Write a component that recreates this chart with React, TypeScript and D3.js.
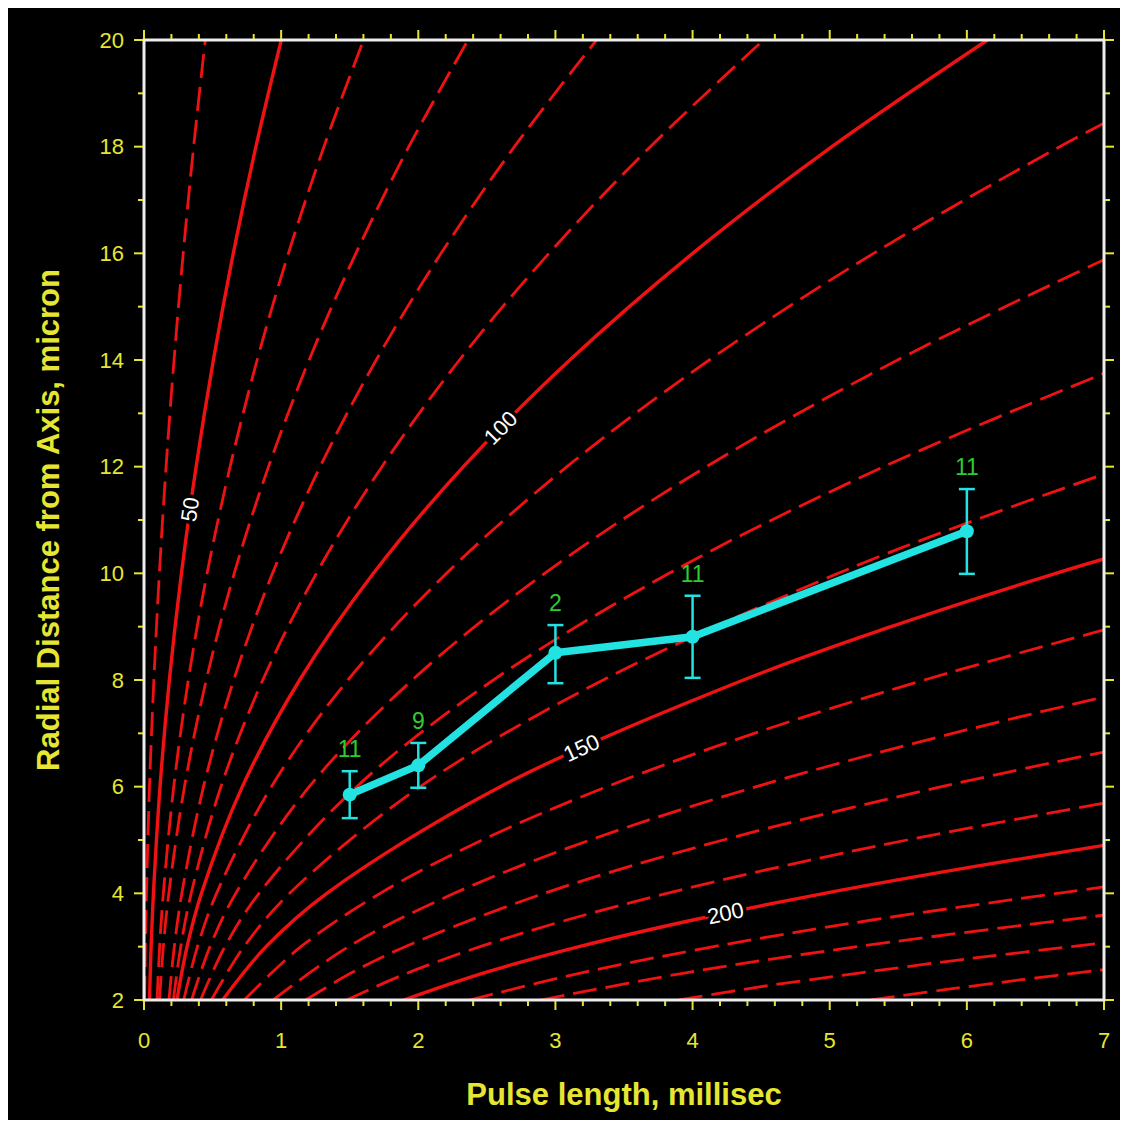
import React from 'react';
import * as d3 from 'd3';

// ---------- data ----------
const pulseLength = [1.5, 2, 3, 4, 6];
const radialMean = [5.85, 6.4, 8.51, 8.81, 10.79];
const errLow = [5.41, 5.98, 7.94, 8.04, 9.99];
const errHigh = [6.29, 6.82, 9.03, 9.58, 11.58];
const sampleCounts = ['11', '9', '2', '11', '11'];

const xTicks = [0, 1, 2, 3, 4, 5, 6, 7];
const yTicks = [2, 4, 6, 8, 10, 12, 14, 16, 18, 20];

const c40 = [[0.0045, 2], [0.010, 3], [0.018, 4], [0.040, 6], [0.072, 8], [0.112, 10], [0.161, 12], [0.219, 14], [0.286, 16], [0.362, 18], [0.447, 20]];
const c50 = [[0.040, 2], [0.052, 3], [0.069, 4], [0.117, 6], [0.185, 8], [0.273, 10], [0.380, 12], [0.506, 14], [0.651, 16], [0.816, 18], [1.001, 20]];
const c60 = [[0.095, 2], [0.114, 3], [0.141, 4], [0.217, 6], [0.323, 8], [0.460, 10], [0.628, 12], [0.825, 14], [1.053, 16], [1.312, 18], [1.601, 20]];
const c70 = [[0.113, 2], [0.141, 3], [0.181, 4], [0.295, 6], [0.454, 8], [0.658, 10], [0.908, 12], [1.204, 14], [1.545, 16], [1.931, 18], [2.363, 20]];
const c80 = [[0.182, 2], [0.221, 3], [0.276, 4], [0.434, 6], [0.654, 8], [0.937, 10], [1.284, 12], [1.693, 14], [2.166, 16], [2.701, 18], [3.300, 20]];
const c90 = [[0.214, 2], [0.268, 3], [0.344, 4], [0.561, 6], [0.866, 8], [1.257, 10], [1.735, 12], [2.300, 14], [2.953, 16], [3.692, 18], [4.518, 20]];
const c100 = [[0.240, 2], [0.314, 3], [0.419, 4], [0.717, 6], [1.135, 8], [1.673, 10], [2.329, 12], [3.105, 14], [4.001, 16], [5.016, 18], [6.150, 20]];
const c110 = [[0.290, 2], [0.390, 3], [0.529, 4], [0.929, 6], [1.487, 8], [2.206, 10], [3.084, 12], [4.122, 14], [5.320, 16], [6.677, 18], [7, 18.44]];
const c120 = [[0.347, 2], [0.481, 3], [0.669, 4], [1.205, 6], [1.956, 8], [2.921, 10], [4.101, 12], [5.495, 14], [7, 15.88]];
const c130 = [[0.412, 2], [0.590, 3], [0.839, 4], [1.551, 6], [2.548, 8], [3.829, 10], [5.395, 12], [7, 13.75]];
const c140 = [[0.491, 2], [0.729, 3], [1.062, 4], [2.014, 6], [3.348, 8], [5.062, 10], [6.062, 11], [7, 11.86]];
const c150 = [[0.573, 2], [0.890, 3], [1.333, 4], [2.598, 6], [4.371, 8], [5.447, 9], [6.649, 10], [7, 10.27]];
const c160 = [[0.731, 2], [1.144, 3], [1.722, 4], [2.466, 5], [3.375, 6], [4.450, 7], [5.689, 8], [7, 8.94]];
const c170 = [[0.941, 2], [1.491, 3], [2.262, 4], [3.253, 5], [4.465, 6], [5.897, 7], [7, 7.68]];
const c180 = [[1.180, 2], [1.506, 2.5], [1.904, 3], [2.919, 4], [4.223, 5], [5.817, 6], [7, 6.65]];
const c190 = [[1.478, 2], [1.916, 2.5], [2.451, 3], [3.083, 3.5], [3.813, 4], [4.640, 4.5], [5.564, 5], [7, 5.69]];
const c200 = [[1.893, 2], [2.468, 2.5], [3.172, 3], [4.003, 3.5], [4.962, 4], [6.049, 4.5], [7, 4.90]];
const c210 = [[2.374, 2], [3.174, 2.5], [4.153, 3], [5.309, 3.5], [7, 4.12]];
const c220 = [[2.893, 2], [3.930, 2.5], [5.198, 3], [7, 3.59]];
const c230 = [[3.9, 2], [4.5, 2.25], [5.2, 2.5], [6.0, 2.77], [7, 3.07]];
const c240 = [[5.3, 2], [5.8, 2.18], [6.4, 2.38], [7, 2.57]];

const contourLevels = [40, 50, 60, 70, 80, 90, 100, 110, 120, 130, 140, 150, 160, 170, 180, 190, 200, 210, 220, 230, 240];
const contourPoints = [c40, c50, c60, c70, c80, c90, c100, c110, c120, c130, c140, c150, c160, c170, c180, c190, c200, c210, c220, c230, c240];

const labelLevels = ['50', '100', '150', '200'];
const labelT = [0.335, 2.6, 3.19, 4.24];
const labelR = [11.2, 12.73, 6.73, 3.63];
const labelAngle = [-82, -45, -25, -12];

// ---------- layout ----------
const W = 1112;
const H = 1112;
const plot = { left: 136, top: 32, right: 1096, bottom: 992 };

const YELLOW = '#E6E632';
const RED = '#F01212';
const CYAN = '#22E2E2';
const GREEN = '#2ECC2E';
const FONT = '"Liberation Sans", Arial, sans-serif';

export default function App() {
  const x = d3.scaleLinear().domain([0, 7]).range([plot.left, plot.right]);
  const y = d3.scaleLinear().domain([2, 20]).range([plot.bottom, plot.top]);

  const line = d3
    .line<number[]>()
    .x((d) => x(d[0]))
    .y((d) => y(d[1]))
    .curve(d3.curveCatmullRom.alpha(0.5));

  const dataLine = d3
    .line<number>()
    .x((_, i) => x(pulseLength[i]))
    .y((d) => y(d));

  const xMinor = d3.range(0, 7.0001, 0.2).filter((v) => Math.abs(v - Math.round(v)) > 1e-6);
  const yMinor = d3.range(3, 20, 2);

  return (
    <svg width={W} height={H} style={{ display: 'block', background: '#000' }}>
      <rect x={0} y={0} width={W} height={H} fill="#000" />
      <defs>
        <clipPath id="plotClip">
          <rect x={plot.left} y={plot.top} width={plot.right - plot.left} height={plot.bottom - plot.top} />
        </clipPath>
      </defs>

      {/* contours */}
      <g clipPath="url(#plotClip)">
        {contourPoints.map((pts, i) => {
          const solid = contourLevels[i] % 50 === 0;
          return (
            <path
              key={contourLevels[i]}
              d={line(pts as number[][]) || ''}
              fill="none"
              stroke={RED}
              strokeWidth={solid ? 3.4 : 2.8}
              strokeDasharray={solid ? undefined : '24 9'}
              strokeLinecap="butt"
            />
          );
        })}
        {labelLevels.map((t, i) => (
          <text
            key={t}
            transform={`translate(${x(labelT[i])},${y(labelR[i])}) rotate(${labelAngle[i]})`}
            textAnchor="middle"
            dy="0.35em"
            fill="#fff"
            stroke="#000"
            strokeWidth={7}
            paintOrder="stroke"
            fontFamily={FONT}
            fontSize={22}
          >
            {t}
          </text>
        ))}
      </g>

      {/* frame */}
      <rect
        x={plot.left}
        y={plot.top}
        width={plot.right - plot.left}
        height={plot.bottom - plot.top}
        fill="none"
        stroke="#EDEDED"
        strokeWidth={3}
      />

      {/* ticks */}
      <g stroke={YELLOW} strokeWidth={2}>
        {xTicks.map((v) => (
          <g key={'xt' + v}>
            <line x1={x(v)} x2={x(v)} y1={plot.bottom + 1} y2={plot.bottom + 10} />
            <line x1={x(v)} x2={x(v)} y1={plot.top - 1} y2={plot.top - 10} />
          </g>
        ))}
        {xMinor.map((v) => (
          <g key={'xm' + v}>
            <line x1={x(v)} x2={x(v)} y1={plot.bottom + 1} y2={plot.bottom + 6} />
            <line x1={x(v)} x2={x(v)} y1={plot.top - 1} y2={plot.top - 6} />
          </g>
        ))}
        {yTicks.map((v) => (
          <g key={'yt' + v}>
            <line x1={plot.left - 1} x2={plot.left - 10} y1={y(v)} y2={y(v)} />
            <line x1={plot.right + 1} x2={plot.right + 10} y1={y(v)} y2={y(v)} />
          </g>
        ))}
        {yMinor.map((v) => (
          <g key={'ym' + v}>
            <line x1={plot.left - 1} x2={plot.left - 6} y1={y(v)} y2={y(v)} />
            <line x1={plot.right + 1} x2={plot.right + 6} y1={y(v)} y2={y(v)} />
          </g>
        ))}
      </g>

      {/* tick labels */}
      <g fill={YELLOW} fontFamily={FONT} fontSize={22}>
        {xTicks.map((v) => (
          <text key={'xl' + v} x={x(v)} y={plot.bottom + 48} textAnchor="middle">
            {v}
          </text>
        ))}
        {yTicks.map((v) => (
          <text key={'yl' + v} x={plot.left - 20} y={y(v)} dy="0.35em" textAnchor="end">
            {v}
          </text>
        ))}
      </g>

      {/* axis titles */}
      <text
        x={(plot.left + plot.right) / 2}
        y={1097}
        textAnchor="middle"
        fill={YELLOW}
        fontFamily={FONT}
        fontWeight="bold"
        fontSize={31}
      >
        Pulse length, millisec
      </text>
      <text
        transform={`translate(51,${(plot.top + plot.bottom) / 2}) rotate(-90)`}
        textAnchor="middle"
        fill={YELLOW}
        fontFamily={FONT}
        fontWeight="bold"
        fontSize={31}
      >
        Radial Distance from Axis, micron
      </text>

      {/* data */}
      <g>
        {pulseLength.map((t, i) => (
          <g key={'eb' + i} stroke={CYAN} strokeWidth={2.5}>
            <line x1={x(t)} x2={x(t)} y1={y(errLow[i])} y2={y(errHigh[i])} />
            <line x1={x(t) - 8} x2={x(t) + 8} y1={y(errLow[i])} y2={y(errLow[i])} />
            <line x1={x(t) - 8} x2={x(t) + 8} y1={y(errHigh[i])} y2={y(errHigh[i])} />
          </g>
        ))}
        <path
          d={dataLine(radialMean) || ''}
          fill="none"
          stroke={CYAN}
          strokeWidth={7.5}
          strokeLinejoin="round"
        />
        {pulseLength.map((t, i) => (
          <circle key={'pt' + i} cx={x(t)} cy={y(radialMean[i])} r={7} fill={CYAN} />
        ))}
        {pulseLength.map((t, i) => (
          <text
            key={'n' + i}
            x={x(t)}
            y={y(errHigh[i]) - 14}
            textAnchor="middle"
            fill={GREEN}
            fontFamily={FONT}
            fontSize={23}
          >
            {sampleCounts[i]}
          </text>
        ))}
      </g>
    </svg>
  );
}
